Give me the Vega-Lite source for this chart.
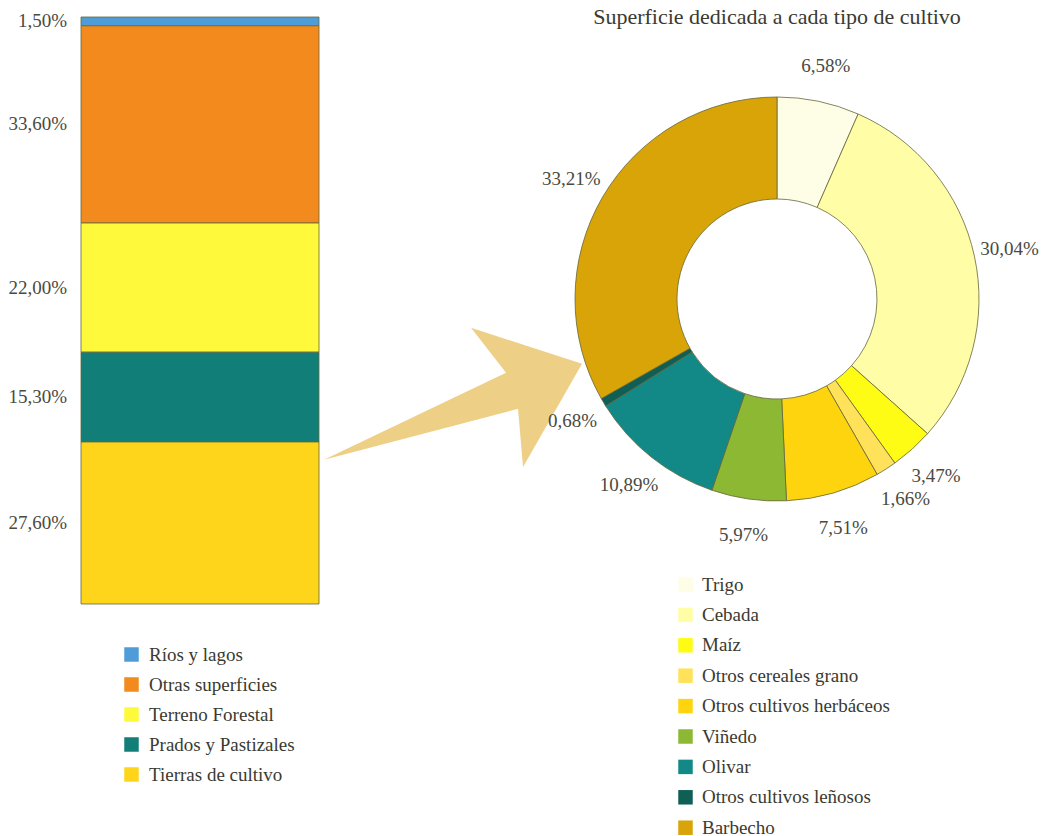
{
  "$schema": "https://vega.github.io/schema/vega-lite/v6.json",
  "background": "white",
  "padding": {"left": 8, "top": 6, "right": 5, "bottom": 0},
  "bounds": "flush",
  "spacing": 228,
  "config": {
    "font": "Liberation Serif",
    "view": {"stroke": null},
    "locale": {"number": {"decimal": ",", "thousands": ".", "grouping": [3], "currency": ["", " €"]}},
    "legend": {
      "labelFont": "Liberation Serif",
      "labelFontSize": 19,
      "labelColor": "#3a3a30",
      "labelLimit": 400,
      "symbolType": "square",
      "symbolSize": 210,
      "symbolStrokeWidth": 0,
      "symbolOpacity": 1,
      "padding": 0
    }
  },
  "resolve": {"scale": {"color": "independent"}, "legend": {"color": "independent"}},
  "hconcat": [
    {
      "width": 238,
      "height": 587,
      "data": {"values": [
        {"tipo": "Ríos y lagos", "pct": 0.015, "orden": 5},
        {"tipo": "Otras superficies", "pct": 0.336, "orden": 4},
        {"tipo": "Terreno Forestal", "pct": 0.22, "orden": 3},
        {"tipo": "Prados y Pastizales", "pct": 0.153, "orden": 2},
        {"tipo": "Tierras de cultivo", "pct": 0.276, "orden": 1}
      ]},
      "layer": [
        {
          "data": {"values": [{"forma": "flecha"}]},
          "mark": {"type": "point", "filled": true, "opacity": 1, "color": "#edcf86", "strokeWidth": 0,
                   "shape": "M-1,0.484L0.411,-0.19L0.14,-0.539L1,-0.26L0.543,0.539L0.504,0.089Z", "size": 66564},
          "encoding": {
            "x": {"datum": 1.563, "type": "quantitative", "scale": {"domain": [0, 1]}, "axis": null},
            "y": {"datum": 0.352, "type": "quantitative", "scale": {"domain": [0, 1]}, "axis": null}
          }
        },
        {
          "transform": [
            {"stack": "pct", "groupby": [], "sort": [{"field": "orden", "order": "ascending"}], "as": ["s0", "s1"]}
          ],
          "mark": {"type": "rect", "stroke": "#66663a", "strokeWidth": 0.8},
          "encoding": {
            "x": {"datum": 0, "type": "quantitative", "scale": {"domain": [0, 1]}, "axis": null},
            "x2": {"datum": 1},
            "y": {"field": "s0", "type": "quantitative", "scale": {"domain": [0, 1]}, "axis": null},
            "y2": {"field": "s1"},
            "color": {
              "field": "tipo", "type": "nominal",
              "scale": {
                "domain": ["Ríos y lagos", "Otras superficies", "Terreno Forestal", "Prados y Pastizales", "Tierras de cultivo"],
                "range": ["#4f9dd8", "#f28a1e", "#fef93a", "#127e78", "#fed51a"]
              },
              "legend": {"title": null, "orient": "none", "legendX": 41, "legendY": 628, "direction": "vertical", "rowPadding": 10, "labelOffset": 8}
            }
          }
        },
        {
          "transform": [
            {"stack": "pct", "groupby": [], "sort": [{"field": "orden", "order": "ascending"}], "as": ["s0", "s1"]},
            {"fold": ["s0", "s1"], "as": ["k", "v"]},
            {"aggregate": [{"op": "mean", "field": "v", "as": "mid"}], "groupby": ["tipo", "pct"]}
          ],
          "mark": {"type": "text", "align": "right", "baseline": "middle", "fontSize": 19, "font": "Liberation Serif", "color": "#4a4a40"},
          "encoding": {
            "x": {"datum": -0.059, "type": "quantitative", "scale": {"domain": [0, 1]}, "axis": null},
            "y": {"field": "mid", "type": "quantitative", "scale": {"domain": [0, 1]}, "axis": null},
            "text": {"field": "pct", "type": "quantitative", "format": ".2%"}
          }
        }
      ]
    },
    {
      "width": 460,
      "height": 564,
      "title": {"text": "Superficie dedicada a cada tipo de cultivo", "font": "Liberation Serif", "fontSize": 22, "fontWeight": "normal", "color": "#3a3a30", "offset": -12, "anchor": "middle"},
      "data": {"values": [
        {"cultivo": "Trigo", "pct": 0.0658, "orden": 1},
        {"cultivo": "Cebada", "pct": 0.3004, "orden": 2},
        {"cultivo": "Maíz", "pct": 0.0347, "orden": 3},
        {"cultivo": "Otros cereales grano", "pct": 0.0166, "orden": 4},
        {"cultivo": "Otros cultivos herbáceos", "pct": 0.0751, "orden": 5},
        {"cultivo": "Viñedo", "pct": 0.0597, "orden": 6},
        {"cultivo": "Olivar", "pct": 0.1089, "orden": 7},
        {"cultivo": "Otros cultivos leñosos", "pct": 0.0068, "orden": 8},
        {"cultivo": "Barbecho", "pct": 0.3321, "orden": 9}
      ]},
      "encoding": {
        "theta": {"field": "pct", "type": "quantitative", "stack": true},
        "order": {"field": "orden", "type": "quantitative"}
      },
      "layer": [
        {
          "mark": {"type": "arc", "innerRadius": 100, "outerRadius": 202, "stroke": "#66663a", "strokeWidth": 0.8},
          "encoding": {
            "color": {
              "field": "cultivo", "type": "nominal",
              "scale": {
                "domain": ["Trigo", "Cebada", "Maíz", "Otros cereales grano", "Otros cultivos herbáceos", "Viñedo", "Olivar", "Otros cultivos leñosos", "Barbecho"],
                "range": ["#fefde6", "#fffda6", "#fefb14", "#ffe25a", "#fed40e", "#8db833", "#138987", "#0f5f55", "#d9a407"]
              },
              "legend": {"title": null, "orient": "none", "legendX": 129, "legendY": 558, "direction": "vertical", "rowPadding": 10.4, "labelOffset": 7}
            }
          }
        },
        {
          "mark": {"type": "text", "radius": 238, "fontSize": 19, "font": "Liberation Serif", "color": "#4a4a40", "align": "center", "baseline": "middle"},
          "encoding": {
            "text": {"field": "pct", "type": "quantitative", "format": ".2%"}
          }
        }
      ]
    }
  ]
}
